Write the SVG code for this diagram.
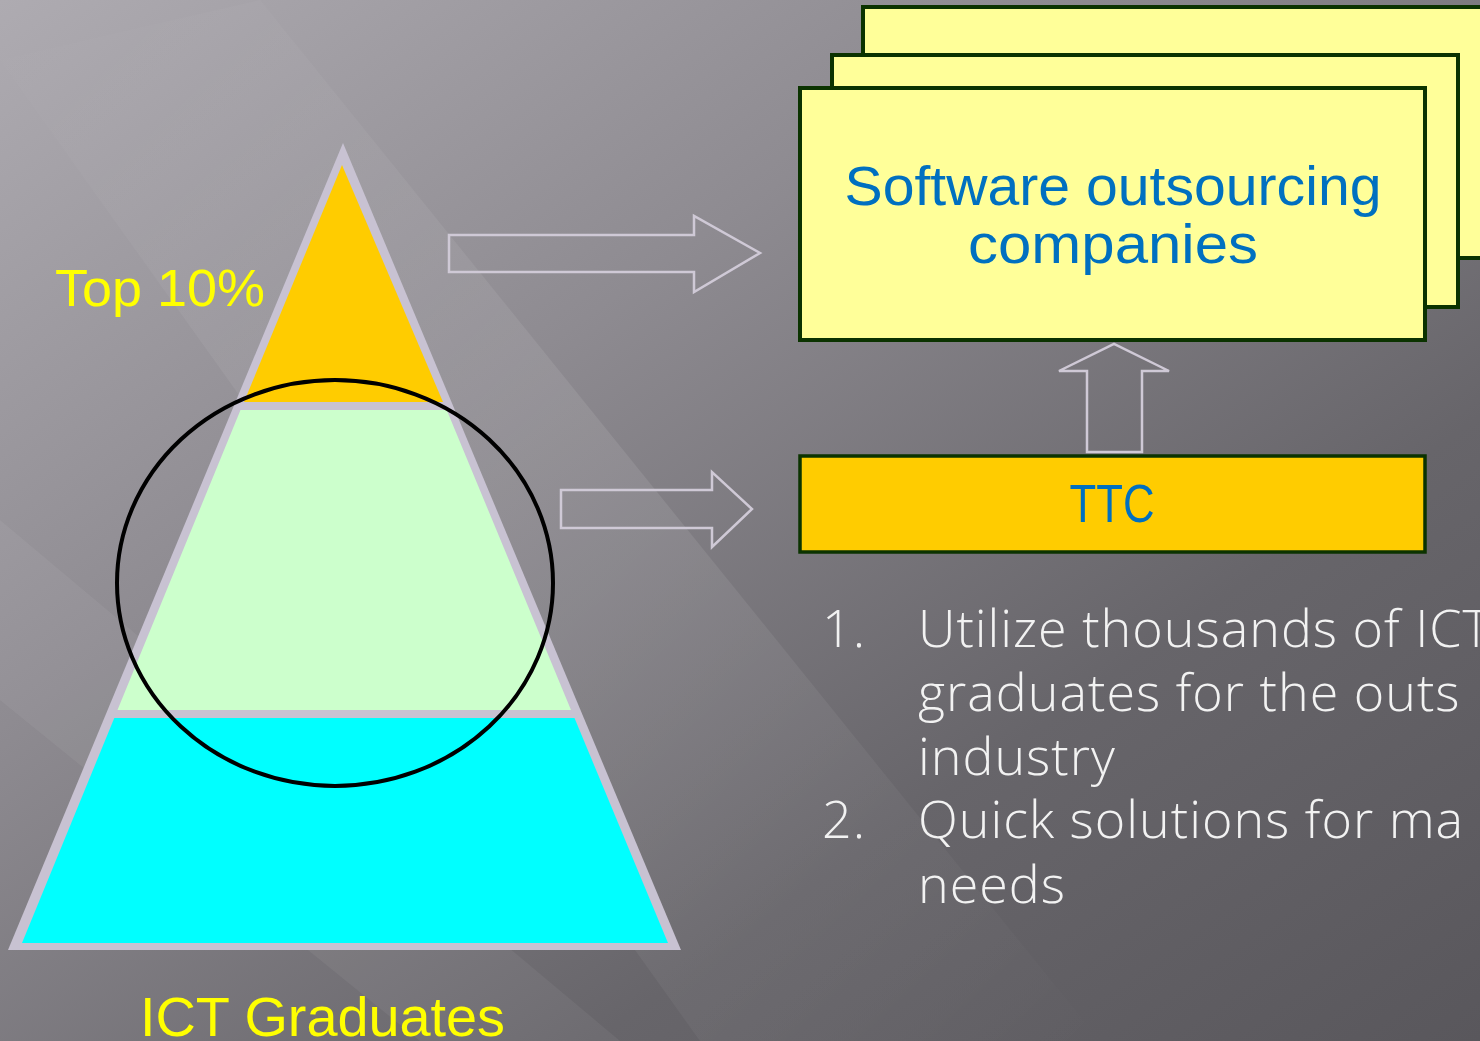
<svg xmlns="http://www.w3.org/2000/svg" width="1480" height="1041" viewBox="0 0 1480 1041">
<defs>
<linearGradient id="bg" x1="0" y1="0" x2="1" y2="1">
<stop offset="0" stop-color="#aeabb1"/>
<stop offset="0.35" stop-color="#8e8b91"/>
<stop offset="0.7" stop-color="#67656a"/>
<stop offset="1" stop-color="#59575c"/>
</linearGradient>
<linearGradient id="band" x1="0" y1="0" x2="1" y2="1">
<stop offset="0" stop-color="#ffffff" stop-opacity="0"/>
<stop offset="0.45" stop-color="#ffffff" stop-opacity="0.09"/>
<stop offset="0.55" stop-color="#ffffff" stop-opacity="0.09"/>
<stop offset="1" stop-color="#ffffff" stop-opacity="0"/>
</linearGradient>
<style>
.arrow{fill:none;stroke:#cfc9d6;stroke-width:2.5;stroke-linejoin:miter}
.card{fill:#ffff99;stroke:#0b3300;stroke-width:4}
.blue{fill:#0070c0;font-family:"Liberation Sans",Arial,sans-serif;text-anchor:middle}
.list{fill:#f2f2f2;font-family:"Open Sans","Lato",sans-serif;font-weight:300;font-size:52px;letter-spacing:1px}
.yl{fill:#ffff00;font-family:"Liberation Sans",Arial,sans-serif}
</style>
</defs>
<rect x="0" y="0" width="1480" height="1041" fill="url(#bg)"/>
<polygon points="0,60 260,0 1100,1041 700,1041" fill="url(#band)"/>
<polygon points="0,520 0,700 420,1041 620,1041" fill="#ffffff" opacity="0.05"/>

<g id="pyramid">
<polygon points="343,143 8,950 681,950" fill="#c8c2d2"/>
<polygon id="top" points="342,165 244,402 443,402" fill="#ffcc00"/>
<polygon id="middle" points="240.5,410 446.7,410 571,710 117.5,710" fill="#ccffcc"/>
<polygon id="bottom" points="114.3,718 574.5,718 668,943 22,943" fill="#00ffff"/>
</g>
<g id="circle">
<ellipse cx="335" cy="583" rx="218" ry="203" fill="none" stroke="#000" stroke-width="4"/>
</g>
<g id="label-top">
<text class="yl" x="55" y="306" font-size="52" textLength="210" lengthAdjust="spacingAndGlyphs">Top 10%</text>
</g>
<g id="label-ict">
<text class="yl" x="140" y="1036" font-size="56" textLength="365" lengthAdjust="spacingAndGlyphs">ICT Graduates</text>
</g>

<g id="companies">
<rect class="card" x="863" y="7" width="640" height="251"/>
<rect class="card" x="832" y="55" width="626" height="252"/>
<rect class="card" x="800" y="88" width="625" height="252"/>
<text class="blue" x="1113" y="205" font-size="55" textLength="537" lengthAdjust="spacingAndGlyphs">Software outsourcing</text>
<text class="blue" x="1113" y="263" font-size="55" textLength="290" lengthAdjust="spacingAndGlyphs">companies</text>
</g>

<g id="ttc">
<rect x="800" y="456" width="625" height="96" fill="#ffcc00" stroke="#0b3300" stroke-width="3.5"/>
<text class="blue" x="1112" y="522" font-size="54" textLength="85" lengthAdjust="spacingAndGlyphs">TTC</text>
</g>

<g id="connectors">
<polygon class="arrow" points="449,235 694,235 694,216 760,253 694,292 694,272 449,272"/>
<polygon class="arrow" points="561,490 712,490 712,472 752,509 712,547 712,528 561,528"/>
<polygon class="arrow" points="1087,452 1087,371 1059,371 1114,344 1169,371 1142,371 1142,452"/>
</g>

<g id="list">
<text class="list" x="822" y="647">1.</text>
<text class="list" x="918" y="647">Utilize thousands of ICT</text>
<text class="list" x="918" y="711">graduates for the outs</text>
<text class="list" x="918" y="775">industry</text>
<text class="list" x="822" y="838">2.</text>
<text class="list" x="918" y="838">Quick solutions for ma</text>
<text class="list" x="918" y="903">needs</text>
</g>
</svg>
